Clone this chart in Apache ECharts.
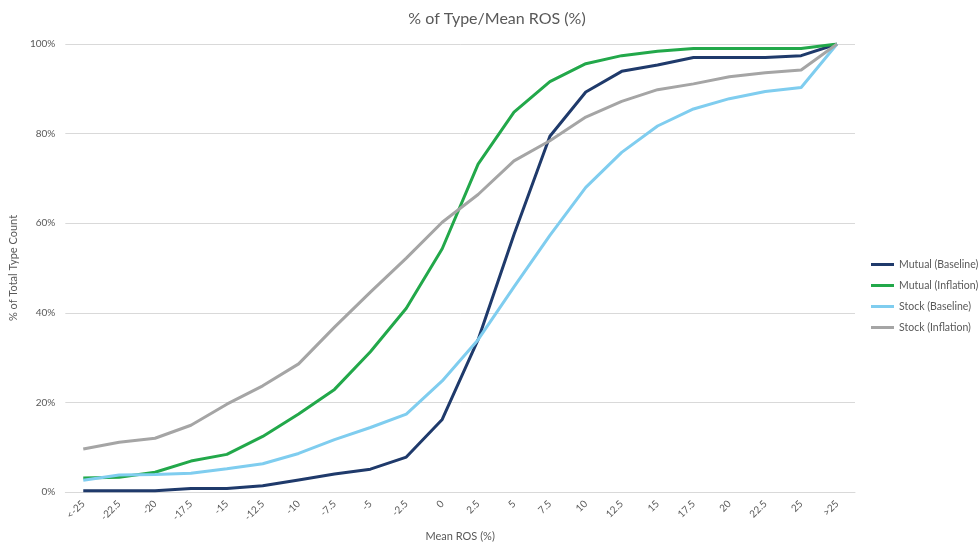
<!DOCTYPE html>
<html>
<head>
<meta charset="utf-8">
<title>% of Type/Mean ROS (%)</title>
<script src="https://cdn.jsdelivr.net/npm/echarts@6/dist/echarts.min.js"></script>
<style>
  html, body { margin: 0; padding: 0; background: #ffffff; }
  #chart { width: 979px; height: 547px; }
</style>
</head>
<body>
<div id="chart"></div>
<script>
// Mean ROS buckets (%)
const categories = ['<-25', '-22.5', '-20', '-17.5', '-15', '-12.5', '-10', '-7.5', '-5', '-2.5', '0',
  '2.5', '5', '7.5', '10', '12.5', '15', '17.5', '20', '22.5', '25', '>25'];

// Cumulative share of each type's count (%)
const mutualBaseline = [0.3, 0.3, 0.3, 0.8, 0.8, 1.4, 2.7, 4.0, 5.1, 7.8, 16.2,
  34.0, 57.5, 79.4, 89.3, 93.9, 95.3, 97.0, 97.0, 97.0, 97.4, 100];
const mutualInflation = [3.1, 3.3, 4.4, 6.9, 8.4, 12.4, 17.4, 22.9, 31.3, 41.0, 54.3,
  73.2, 84.8, 91.6, 95.6, 97.4, 98.4, 99.0, 99.0, 99.0, 99.0, 100];
const stockBaseline = [2.6, 3.8, 3.9, 4.2, 5.2, 6.3, 8.6, 11.7, 14.4, 17.4, 24.8,
  34.0, 45.8, 57.3, 68.0, 75.8, 81.7, 85.5, 87.8, 89.4, 90.3, 100];
const stockInflation = [9.6, 11.1, 12.0, 14.9, 19.6, 23.7, 28.6, 36.8, 44.6, 52.2, 60.2,
  66.4, 73.9, 78.4, 83.7, 87.2, 89.8, 91.1, 92.7, 93.6, 94.2, 100];

const yTicks = [0, 20, 40, 60, 80, 100];

const seriesDefs = [
  { name: 'Mutual (Baseline)', data: mutualBaseline, color: '#1F3A6B' },
  { name: 'Mutual (Inflation)', data: mutualInflation, color: '#22A84A' },
  { name: 'Stock (Baseline)', data: stockBaseline, color: '#7FCDEF' },
  { name: 'Stock (Inflation)', data: stockInflation, color: '#A5A5A5' }
];

const FONT = 'Lato, "Liberation Sans", sans-serif';
const TEXT = '#595959';

const chart = echarts.init(document.getElementById('chart'), null, { renderer: 'canvas' });
chart.setOption({
  animation: false,
  backgroundColor: '#ffffff',
  title: {
    text: '% of Type/Mean ROS (%)',
    left: 492,
    top: 6,
    textAlign: 'center',
    textStyle: { fontFamily: FONT, fontSize: 16, fontWeight: 'normal', color: TEXT }
  },
  legend: {
    orient: 'vertical',
    left: 866,
    top: 254,
    itemWidth: 23,
    itemHeight: 3,
    itemGap: 10,
    icon: 'rect',
    textStyle: { fontFamily: FONT, fontSize: 10.5, color: TEXT },
    data: seriesDefs.map(s => s.name)
  },
  grid: { left: 61, right: 124, top: 44, bottom: 52 },
  xAxis: {
    type: 'category',
    data: categories,
    boundaryGap: true,
    name: 'Mean ROS (%)',
    nameLocation: 'middle',
    nameGap: 39,
    nameTextStyle: { fontFamily: FONT, fontSize: 11, color: TEXT },
    axisLine: { lineStyle: { color: '#D9D9D9', width: 1 } },
    axisTick: { show: false },
    axisLabel: { interval: 0, rotate: 45, margin: 10, fontFamily: FONT, fontSize: 10, color: TEXT }
  },
  yAxis: {
    type: 'value',
    min: yTicks[0],
    max: yTicks[yTicks.length - 1],
    interval: yTicks[1] - yTicks[0],
    name: '% of Total Type Count',
    nameLocation: 'middle',
    nameGap: 37,
    nameTextStyle: { fontFamily: FONT, fontSize: 11, color: TEXT },
    axisLine: { show: false },
    axisTick: { show: false },
    axisLabel: { formatter: '{value}%', margin: 10, fontFamily: FONT, fontSize: 10, color: TEXT },
    splitLine: { lineStyle: { color: '#D9D9D9', width: 1 } }
  },
  series: seriesDefs.map(s => ({
    name: s.name,
    type: 'line',
    data: s.data,
    symbol: 'none',
    smooth: false,
    lineStyle: { color: s.color, width: 3 },
    itemStyle: { color: s.color }
  }))
});
</script>
</body>
</html>
